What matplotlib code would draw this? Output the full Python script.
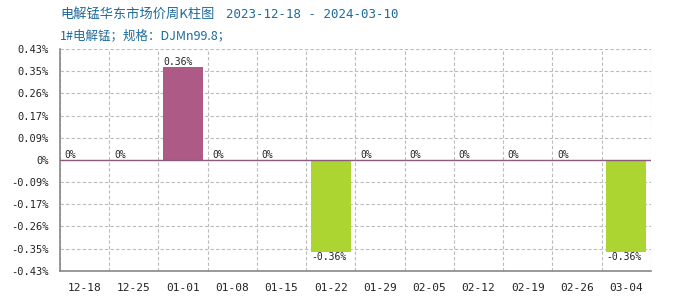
import numpy as np
import matplotlib.pyplot as plt

# weekly change (%) of electrolytic manganese price, East China
weeks = ['12-18', '12-25', '01-01', '01-08', '01-15', '01-22',
         '01-29', '02-05', '02-12', '02-19', '02-26', '03-04']
changes = [0, 0, 0.36, 0, 0, -0.36, 0, 0, 0, 0, 0, -0.36]

title = '电解锰华东市场价周K柱图'
date_range = '2023-12-18 - 2024-03-10'
subtitle = '1#电解锰；规格：DJMn99.8；'

pos_color = '#AD5A87'
neg_color = '#ADD531'
grid_color = '#BBBBBB'
mono = ['DejaVu Sans Mono']
cjk = ['Noto Sans CJK SC', 'DejaVu Sans Mono']

fig = plt.figure(figsize=(7, 3), dpi=100)
ax = fig.add_axes([0.0857, 0.0977, 0.844, 0.739])

x = np.arange(len(weeks))
vals = np.array(changes)
colors = [pos_color if v >= 0 else neg_color for v in vals]
bw = 0.81
ax.bar(x, vals, width=bw, color=colors, zorder=3)

ymax = max(abs(vals)) * 1.2
ax.set_ylim(-ymax, ymax)
ax.set_xlim(-0.5, len(weeks) - 0.5)

yticks = np.linspace(-ymax, ymax, 11)
ax.set_yticks(yticks)
ax.set_yticklabels(['0%' if abs(t) < 1e-9 else f'{t:.2f}%' for t in yticks],
                   fontsize=7.5, family=mono)
ax.set_xticks(x)
ax.set_xticklabels(weeks, fontsize=8, family=mono)
ax.tick_params(axis='both', length=0, colors='#222222')
ax.tick_params(axis='x', pad=9)
ax.tick_params(axis='y', pad=8)

# grid lines on category boundaries
ax.set_xticks(np.arange(-0.5, len(weeks)), minor=True)
ax.grid(which='minor', axis='x', color=grid_color, ls=(0, (3, 2)), lw=0.8)
ax.grid(which='major', axis='y', color=grid_color, ls=(0, (3, 2)), lw=0.8)
ax.tick_params(which='minor', length=0)

for side in ['top', 'right']:
    ax.spines[side].set_visible(False)
for side in ['left', 'bottom']:
    ax.spines[side].set_color('#888888')
    ax.spines[side].set_linewidth(1.2)
ax.axhline(0, color='#8C5A7C', lw=1, zorder=4)

for xi, v in zip(x, vals):
    lab = '0%' if v == 0 else f'{v:.2f}%'
    if v >= 0:
        ax.text(xi - bw / 2, v, lab, ha='left', va='bottom', fontsize=7,
                family=mono, color='#222222', zorder=5)
    else:
        ax.text(xi - bw / 2, v, lab, ha='left', va='top', fontsize=7,
                family=mono, color='#222222', zorder=5)

fig.text(0.0857, 0.952, title, fontsize=9.5, family=cjk, color='#1E6A9A',
         va='center', ha='left')
fig.text(0.323, 0.952, date_range, fontsize=9, family=mono, color='#1E6A9A',
         va='center', ha='left')
fig.text(0.0857, 0.88, subtitle, fontsize=9, family=cjk, color='#1E6A9A',
         va='center', ha='left')

fig.savefig('out.png', dpi=100)
